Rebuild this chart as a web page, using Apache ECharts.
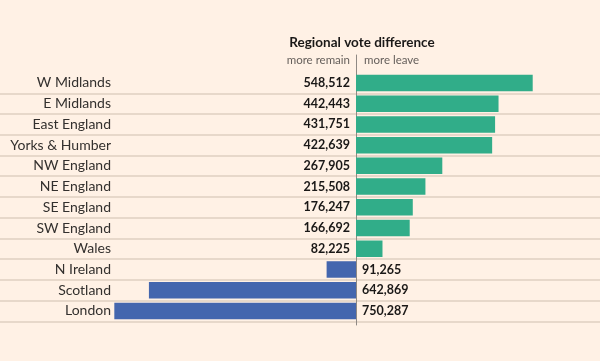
<!DOCTYPE html>
<html><head><meta charset="utf-8">
<script src="https://cdn.jsdelivr.net/npm/echarts@6/dist/echarts.min.js"></script>
<style>html,body{margin:0;padding:0;background:#fff1e5}#c{width:600px;height:361px}</style>
</head><body><div id="c"></div>
<script>
const categories = ['W Midlands','E Midlands','East England','Yorks & Humber','NW England','NE England','SE England','SW England','Wales','N Ireland','Scotland','London'];
// positive = more leave, negative = more remain
const voteDifference = [548512,442443,431751,422639,267905,215508,176247,166692,82225,-91265,-642869,-750287];
const titleText = 'Regional vote difference';
const remainLabel = 'more remain';
const leaveLabel = 'more leave';

const leaveData = voteDifference.map(v => v > 0 ? v : '-');
const remainData = voteDifference.map(v => v < 0 ? v : '-');
const fmt = p => Math.abs(p.value).toLocaleString('en-US');

const FONT = 'Lato';
const GL = 98.3, GR = 18.5, GT = 72.6, GB = 39.7;
const chart = echarts.init(document.getElementById('c'), null, {renderer:'canvas'});
chart.setOption({
  backgroundColor: '#fff1e5',
  animation: false,
  textStyle: {fontFamily: FONT},
  title: {
    text: titleText, left: 357, top: 31, textAlign: 'center',
    textStyle: {fontFamily: FONT, fontSize: 13.5, fontWeight: 'bold', color: '#1a1817'}
  },
  graphic: [
    {type:'text', right: 600-350, top: 54.5, style:{text: remainLabel, fontFamily: FONT, fontSize: 11.5, fill:'#66605c'}},
    {type:'text', left: 364, top: 54.5, style:{text: leaveLabel, fontFamily: FONT, fontSize: 11.5, fill:'#66605c'}}
  ],
  grid: [
    {left: GL, right: GR, top: GT, bottom: GB},
    {left: 0, right: 0, top: GT, bottom: GB},
    {left: GL, right: GR, top: 55, bottom: 36}
  ],
  xAxis: [
    {gridIndex:0, type:'value', min:-800000, max:700000, show:false},
    {gridIndex:1, type:'value', min:0, max:1, show:false},
    {gridIndex:2, type:'value', min:-800000, max:700000, axisLabel:{show:false}, axisLine:{show:false}, axisTick:{show:false}, splitLine:{show:false}}
  ],
  yAxis: [
    {gridIndex:0, type:'category', data: categories, inverse:true,
      axisLine:{show:false, onZero:false}, axisTick:{show:false}, splitLine:{show:false},
      axisLabel:{margin:-12.7, align:'right', fontFamily: FONT, fontSize:14, color:'#33302e'}},
    {gridIndex:1, type:'category', data: categories, inverse:true,
      axisLine:{show:false}, axisTick:{show:false}, axisLabel:{show:false},
      splitLine:{show:true, showMinLine:false, lineStyle:{color:'#dfcfc1', width:1.5}}},
    {gridIndex:2, type:'category', data: ['a'],
      axisLine:{show:true, onZero:true, lineStyle:{color:'#8f8984', width:1}}, axisTick:{show:false}, axisLabel:{show:false}, splitLine:{show:false}}
  ],
  series: [
    {type:'bar', xAxisIndex:0, yAxisIndex:0, data: leaveData, barWidth: 16.5, barGap:'-100%',
      itemStyle:{color:'#31ad89'},
      label:{show:true, position:'left', distance:6, formatter: fmt, fontFamily: FONT, fontSize:12.5, fontWeight:'bold', color:'#1a1817'}},
    {type:'bar', xAxisIndex:0, yAxisIndex:0, data: remainData, barWidth: 16.5, barGap:'-100%',
      itemStyle:{color:'#4466ae'},
      label:{show:true, position:'right', distance:6, formatter: fmt, fontFamily: FONT, fontSize:12.5, fontWeight:'bold', color:'#1a1817'}}
  ]
});
</script></body></html>
